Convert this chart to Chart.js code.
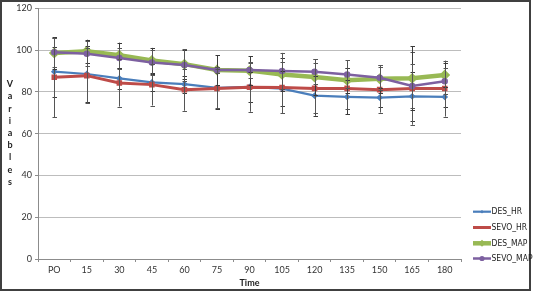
<!DOCTYPE html>
<html><head><meta charset="utf-8">
<script src="https://cdn.jsdelivr.net/npm/chart.js@4/dist/chart.umd.min.js"></script>
<style>html,body{margin:0;padding:0;background:#fff;}#wrap{width:536px;height:292px;position:relative;}</style>
</head><body><div id="wrap"><canvas id="c" width="536" height="292"></canvas></div>
<script>
const categories = ['PO','15','30','45','60','75','90','105','120','135','150','165','180'];
const desHR   = [89.7, 88.6, 86.5, 84.6, 83.7, 81.9, 82.4, 81.6, 78.2, 77.6, 77.3, 77.9, 77.6];
const sevoHR  = [87.0, 87.8, 84.3, 83.5, 81.0, 81.6, 82.2, 82.1, 81.7, 81.7, 81.1, 81.6, 81.6];
const desMAP  = [98.6, 99.5, 97.6, 95.1, 93.3, 90.5, 90.2, 88.4, 87.1, 85.6, 86.3, 86.5, 88.1];
const sevoMAP = [99.0, 98.3, 96.2, 94.1, 92.9, 90.5, 90.5, 90.0, 89.7, 88.4, 86.8, 82.9, 85.1];
const desHRsd   = [12, 13.5, 5, 4, 4, 10, 7, 8.5, 9.6, 8.2, 4.4, 11.6, 4.7];
const sevoHRsd  = [19, 13, 11.3, 10, 10, 9.5, 11.7, 12.3, 12, 9.7, 11, 17.3, 13.4];
const desMAPsd  = [7.5, 5.5, 6, 6, 7, 7, 7, 8, 8.5, 6, 6.6, 15.3, 5.7];
const sevoMAPsd = [7, 6, 5, 6, 7.5, 1.5, 4, 8.7, 6, 6.7, 6, 10.4, 6.3];
const seriesNames = ['DES_HR','SEVO_HR','DES_MAP','SEVO_MAP'];
const yTitle = 'Variables';
const xTitle = 'Time';

const FONT = 'Lato, "Liberation Sans", sans-serif';
const LEGFONT = '"Liberation Sans Narrow", "DejaVu Sans Condensed", Lato, sans-serif';

const errorBars = {
  id: 'errorBars',
  afterDatasetsDraw(chart) {
    const ctx = chart.ctx;
    const y = chart.scales.y;
    ctx.save();
    ctx.lineWidth = 1;
    chart.data.datasets.forEach((ds, di) => {
      const meta = chart.getDatasetMeta(di);
      ctx.strokeStyle = di % 2 === 0 ? '#3a3a3a' : '#555555';
      meta.data.forEach((pt, i) => {
        const v = ds.data[i], s = ds.sd[i];
        const x = Math.round(pt.x) + 0.5;
        const yt = y.getPixelForValue(v + s), yb = y.getPixelForValue(v - s);
        ctx.beginPath();
        ctx.moveTo(x, yt); ctx.lineTo(x, yb);
        ctx.moveTo(x - 2, Math.round(yt) + 0.5); ctx.lineTo(x + 2.5, Math.round(yt) + 0.5);
        ctx.moveTo(x - 2, Math.round(yb) + 0.5); ctx.lineTo(x + 2.5, Math.round(yb) + 0.5);
        ctx.stroke();
      });
    });
    ctx.restore();
  }
};

const extras = {
  id: 'extras',
  afterDraw(chart) {
    const ctx = chart.ctx;
    const ca = chart.chartArea;
    ctx.save();
    ctx.strokeStyle = '#404040';
    ctx.lineWidth = 2;
    ctx.strokeRect(1, 1, 529, 289);
    ctx.fillStyle = '#222';
    ctx.font = 'bold 9px ' + FONT;
    ctx.textAlign = 'center';
    ctx.textBaseline = 'middle';
    yTitle.split('').forEach((ch, i) => ctx.fillText(ch, 10, 84.3 + i * 12.2));
    ctx.fillText(xTitle, (ca.left + ca.right) / 2, 283);
    ctx.font = '8.5px ' + LEGFONT;
    ctx.textAlign = 'left';
    const ly = [211.7, 227.5, 243.3, 258.5];
    const lr = [1.8, 1.8, 3.5, 2.6];
    chart.data.datasets.forEach((ds, i) => {
      const yy = ly[i];
      ctx.strokeStyle = ds.borderColor;
      ctx.lineWidth = ds.borderWidth;
      ctx.beginPath(); ctx.moveTo(473, yy); ctx.lineTo(491, yy); ctx.stroke();
      ctx.fillStyle = ds.borderColor;
      Chart.helpers.drawPoint(ctx, {pointStyle: ds.pointStyle, radius: lr[i], borderWidth: 0}, 482, yy);
      ctx.fillStyle = '#222';
      ctx.fillText(ds.label, 491.5, yy + 0.5);
    });
    ctx.restore();
  }
};

new Chart(document.getElementById('c'), {
  type: 'line',
  data: {
    labels: categories,
    datasets: [
      {label: seriesNames[0], data: desHR, sd: desHRsd, borderColor: '#4a7ebb', backgroundColor: '#4a7ebb', borderWidth: 2.2, pointStyle: 'rectRot', pointRadius: 1.8, order: 4},
      {label: seriesNames[1], data: sevoHR, sd: sevoHRsd, borderColor: '#be4b48', backgroundColor: '#be4b48', borderWidth: 3, pointStyle: 'rect', pointRadius: 1.8, order: 3},
      {label: seriesNames[2], data: desMAP, sd: desMAPsd, borderColor: '#98b954', backgroundColor: '#98b954', borderWidth: 4.5, pointStyle: 'rectRot', pointRadius: 2.3, order: 2},
      {label: seriesNames[3], data: sevoMAP, sd: sevoMAPsd, borderColor: '#7d60a0', backgroundColor: '#7d60a0', borderWidth: 2.5, pointStyle: 'circle', pointRadius: 2.0, order: 1}
    ]
  },
  options: {
    responsive: false,
    animation: false,
    devicePixelRatio: 1,
    layout: {padding: {left: 0, right: 75, top: 7, bottom: 0}},
    elements: {line: {tension: 0}, point: {borderWidth: 0, hoverRadius: 3}},
    plugins: {legend: {display: false}, tooltip: {enabled: false}},
    scales: {
      x: {
        offset: true,
        grid: {display: true, drawOnChartArea: false, drawTicks: true, tickLength: 3, color: '#8c8c8c', offset: true},
        border: {display: true, color: '#8c8c8c', width: 1},
        ticks: {font: {family: FONT, size: 9}, color: '#333', padding: 3, maxRotation: 0, autoSkip: false},
        afterFit(s) { s.height = 33; }
      },
      y: {
        min: 0, max: 120,
        ticks: {stepSize: 20, font: {family: FONT, size: 9}, color: '#333', padding: 3},
        grid: {color: '#bdbdbd', lineWidth: 1, tickLength: 3, tickColor: '#8c8c8c'},
        border: {display: true, color: '#8c8c8c', width: 1},
        afterFit(s) { s.width = 38; }
      }
    }
  },
  plugins: [errorBars, extras]
});
</script>
</body></html>
